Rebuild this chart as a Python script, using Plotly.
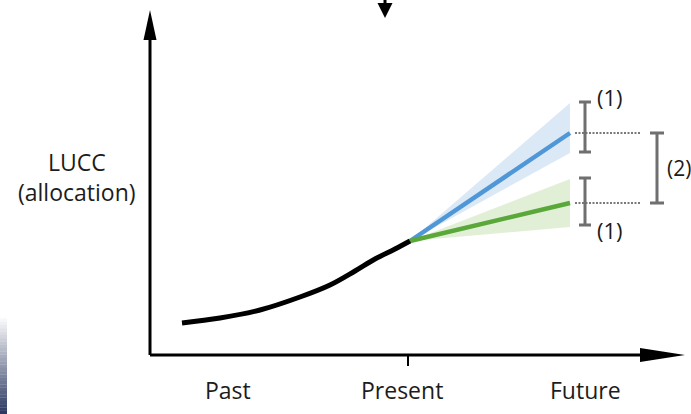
import plotly.graph_objects as go

# coordinate system: 1 unit = 10 px, origin at the axes corner
past_x = [3.2, 7.0, 11.0, 15.0, 18.0, 20.5, 22.5, 24.5, 26.0]
past_y = [3.2, 3.7, 4.5, 5.8, 7.0, 8.4, 9.6, 10.6, 11.4]

proj_x = [26.0, 42.0]
blue_y = [11.4, 22.2]
blue_hi = [11.4, 25.2]
blue_lo = [11.4, 20.2]
green_y = [11.4, 15.2]
green_hi = [11.4, 17.6]
green_lo = [11.4, 12.8]

# uncertainty bars (1) and difference bracket (2)
err_x = 43.5
err_hi = [25.3, 17.7]
err_lo = [20.3, 13.0]
dash_x = [42.5, 49.0]
bracket_x = 50.7

tick_labels = ["Past", "Present", "Future"]
tick_pos = [7.8, 25.2, 43.5]

GREY = "#6f6f6f"
BLUE = "#4f97d6"
GREEN = "#5aa83a"
FONT = "Open Sans"
TXT = "#1c1c1c"

fig = go.Figure()

# shaded bands
fig.add_trace(go.Scatter(x=proj_x, y=blue_lo, mode="lines", line=dict(width=0), hoverinfo="skip"))
fig.add_trace(go.Scatter(x=proj_x, y=blue_hi, mode="lines", line=dict(width=0), fill="tonexty",
                         fillcolor="rgba(160,196,232,0.38)", hoverinfo="skip"))
fig.add_trace(go.Scatter(x=proj_x, y=green_lo, mode="lines", line=dict(width=0), hoverinfo="skip"))
fig.add_trace(go.Scatter(x=proj_x, y=green_hi, mode="lines", line=dict(width=0), fill="tonexty",
                         fillcolor="rgba(178,214,150,0.38)", hoverinfo="skip"))

# projections
fig.add_trace(go.Scatter(x=proj_x, y=blue_y, mode="lines", line=dict(color=BLUE, width=4.5)))
fig.add_trace(go.Scatter(x=proj_x, y=green_y, mode="lines", line=dict(color=GREEN, width=4.5)))

# past trajectory
fig.add_trace(go.Scatter(x=past_x, y=past_y, mode="lines", line=dict(color="black", width=5, shape="spline")))

# dashed guides
for y in (blue_y[-1], green_y[-1]):
    fig.add_trace(go.Scatter(x=dash_x, y=[y, y], mode="lines",
                             line=dict(color="#4d4d4d", width=1.4, dash="2px,1.5px")))

# error bars (1)
centers = [(h + l) / 2 for h, l in zip(err_hi, err_lo)]
fig.add_trace(go.Scatter(
    x=[err_x, err_x], y=centers, mode="markers", marker=dict(size=0.1, color="rgba(0,0,0,0)"),
    error_y=dict(type="data", symmetric=True, array=[(h - l) / 2 for h, l in zip(err_hi, err_lo)],
                 color=GREY, thickness=3, width=6)))

# bracket (2)
mid = (blue_y[-1] + green_y[-1]) / 2
fig.add_trace(go.Scatter(
    x=[bracket_x], y=[mid], mode="markers", marker=dict(size=0.1, color="rgba(0,0,0,0)"),
    error_y=dict(type="data", symmetric=True, array=[(blue_y[-1] - green_y[-1]) / 2],
                 color=GREY, thickness=3, width=7)))

# axes
shapes = [
    dict(type="line", x0=0, y0=0, x1=0, y1=31.5, line=dict(color="black", width=3)),
    dict(type="line", x0=0, y0=0, x1=49.5, y1=0, line=dict(color="black", width=3)),
    dict(type="path", path="M -0.65 31.5 L 0 34.5 L 0.65 31.5 Z", fillcolor="black", line=dict(width=0)),
    dict(type="path", path="M 49.0 0.7 L 53.5 0 L 49.0 -0.7 Z", fillcolor="black", line=dict(width=0)),
    dict(type="line", x0=25.8, y0=0, x1=25.8, y1=-1.1, line=dict(color="black", width=2)),
    # arrow at top centre
    dict(type="line", x0=23.5, y0=35.5, x1=23.5, y1=35.0, line=dict(color="black", width=3)),
    dict(type="path", path="M 22.75 35.2 L 24.25 35.2 L 23.5 33.7 Z", fillcolor="black", line=dict(width=0)),
]

# dark strip on the left edge
n = 30
top, bottom = 4.0, -5.9
for i in range(n):
    t = i / (n - 1)
    r = int(255 + (44 - 255) * t)
    g = int(255 + (58 - 255) * t)
    b = int(255 + (98 - 255) * t)
    y1 = top - (top - bottom) * i / n
    shapes.append(dict(type="rect", x0=-15.0, x1=-14.3, y0=y1 - (top - bottom) / n - 0.02, y1=y1,
                       fillcolor=f"rgb({r},{g},{b})", line=dict(width=0), layer="below"))

annotations = [
    dict(x=-7.3, y=17.85, text="LUCC<br>(allocation)", showarrow=False,
         font=dict(family=FONT, size=23, color=TXT)),
    dict(x=44.5, y=25.8, text="(1)", showarrow=False, xanchor="left", font=dict(family=FONT, size=22, color=TXT)),
    dict(x=44.5, y=12.5, text="(1)", showarrow=False, xanchor="left", font=dict(family=FONT, size=22, color=TXT)),
    dict(x=51.5, y=mid, text="(2)", showarrow=False, xanchor="left", font=dict(family=FONT, size=21, color=TXT)),
]
for lab, pos in zip(tick_labels, tick_pos):
    annotations.append(dict(x=pos, y=-3.5, text=lab, showarrow=False,
                            font=dict(family=FONT, size=23, color=TXT)))

fig.update_layout(
    width=691, height=414,
    margin=dict(l=0, r=0, t=0, b=0),
    paper_bgcolor="white", plot_bgcolor="white",
    showlegend=False,
    xaxis=dict(range=[-15.0, 54.1], visible=False, fixedrange=True),
    yaxis=dict(range=[-5.9, 35.5], visible=False, fixedrange=True),
    shapes=shapes,
    annotations=annotations,
)

fig.write_html("out.html", config={"displayModeBar": False},
               post_script="document.body.style.margin='0';")
